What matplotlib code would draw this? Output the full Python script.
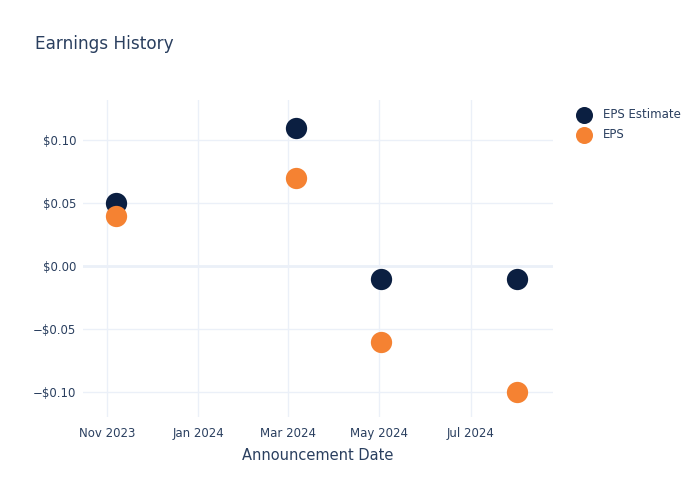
import matplotlib
matplotlib.use("Agg")
import matplotlib.pyplot as plt
import matplotlib.dates as mdates
from matplotlib.ticker import FuncFormatter, MultipleLocator
import pandas as pd

# data
dates = pd.to_datetime(["2023-11-07", "2024-03-06", "2024-05-02", "2024-08-01"])
eps_estimate = [0.05, 0.11, -0.01, -0.01]
eps_actual = [0.04, 0.07, -0.06, -0.10]

text_col = "#2a3f5f"
grid_col = "#ebf0f8"
navy = "#0b1f41"
orange = "#f58232"

plt.rcParams['font.family'] = ['DejaVu Sans']

fig = plt.figure(figsize=(7, 5), dpi=100)
ax = fig.add_axes([83/700, 1 - 417/500, 470/700, 317/500])

ax.scatter(dates, eps_estimate, s=235, color=navy, label="EPS Estimate", zorder=3, linewidths=0)
ax.scatter(dates, eps_actual, s=235, color=orange, label="EPS", zorder=4, linewidths=0)

ax.set_xlim(pd.Timestamp("2023-10-16"), pd.Timestamp("2024-08-25"))
ax.set_ylim(-0.12, 0.132)

ax.xaxis.set_major_locator(mdates.MonthLocator(bymonth=[1, 3, 5, 7, 11]))
ax.xaxis.set_major_formatter(mdates.DateFormatter("%b %Y"))
ax.yaxis.set_major_locator(MultipleLocator(0.05))

def money(v, pos):
    if abs(v) < 1e-9:
        return "$0.00"
    s = "$%.2f" % abs(v)
    return ("\u2212" + s) if v < 0 else s

ax.yaxis.set_major_formatter(FuncFormatter(money))

ax.grid(True, color=grid_col, linewidth=1)
ax.axhline(0, color=grid_col, linewidth=2, zorder=1)
ax.set_axisbelow(True)
for sp in ax.spines.values():
    sp.set_visible(False)
ax.tick_params(length=0, colors=text_col, labelsize=8.5)
ax.tick_params(axis='x', pad=7)
ax.tick_params(axis='y', pad=5)

ax.set_xlabel("Announcement Date", color=text_col, fontsize=10.5, labelpad=6)

fig.text(35/700, 1 - 44/500, "Earnings History", color=text_col, fontsize=12.2, va='center')

leg = ax.legend(loc='upper left', bbox_to_anchor=(572/700, 1 - 103/500),
                bbox_transform=fig.transFigure, frameon=False, fontsize=8.5,
                handletextpad=1.0, labelspacing=0.6, markerscale=0.8,
                borderaxespad=0, handlelength=1.2)
for t in leg.get_texts():
    t.set_color(text_col)

fig.savefig("out.png", dpi=100)
